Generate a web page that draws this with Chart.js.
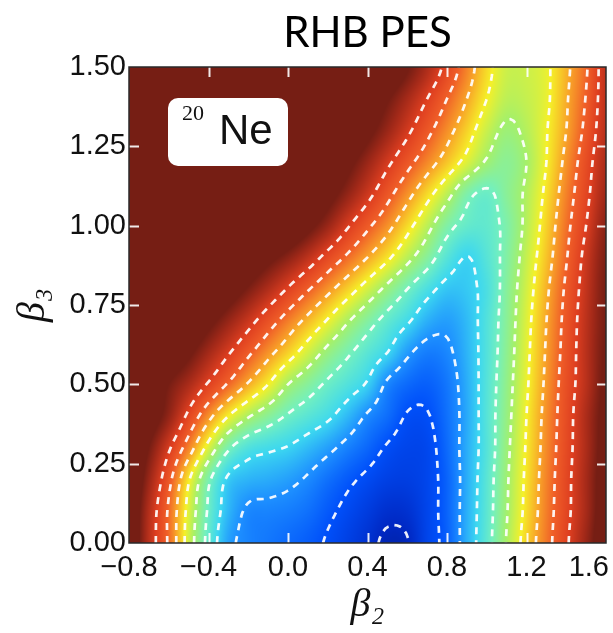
<!DOCTYPE html>
<html>
<head>
<meta charset="utf-8">
<script src="https://cdn.jsdelivr.net/npm/chart.js@4.4.1/dist/chart.umd.min.js"></script>
<style>
  html, body { margin: 0; padding: 0; background: #fff; }
  #wrap { width: 613px; height: 633px; }
</style>
</head>
<body>
<div id="wrap"><canvas id="pes"></canvas></div>
<script>
// grid nodes of the surface (beta2 across, beta3 up)
const beta2 = [-0.8, -0.7, -0.6, -0.5, -0.4, -0.3, -0.2, -0.1, 0.0, 0.1, 0.2, 0.3, 0.4,
               0.5, 0.6, 0.7, 0.8, 0.9, 1.0, 1.1, 1.2, 1.3, 1.4, 1.5, 1.6];
const beta3 = [0.0, 0.1, 0.2, 0.3, 0.4, 0.5, 0.6, 0.7, 0.8, 0.9, 1.0, 1.1, 1.2, 1.3, 1.4, 1.5];

// energy above the minimum (MeV), one row per beta3
const energy = [
  [12.5, 10.6, 8.85, 6.55, 4.7, 3.25, 2.8, 2.6, 2.4, 2.2, 1.93, 1.6, 1.25, 0.85, 0.95, 1.7, 2.25, 3.45, 4.65, 6.05, 7.4, 8.65, 9.85, 11.1, 12.3],   // 0.0
  [12.5, 10.7, 8.86, 6.7, 4.88, 3.55, 2.88, 2.8, 2.7, 2.5, 2.15, 1.82, 1.5, 1.2, 1.25, 1.72, 2.3, 3.43, 4.59, 5.94, 7.25, 8.55, 9.74, 10.9, 12.2], // 0.1
  [12.6, 11.1, 9.3, 7.1, 5.18, 3.85, 3.5, 3.38, 3.2, 2.9, 2.5, 2.15, 1.85, 1.6, 1.55, 1.75, 2.3, 3.4, 4.55, 5.88, 7.18, 8.48, 9.7, 10.9, 12.1],   // 0.2
  [12.8, 11.6, 10.15, 8.5, 6.67, 5.14, 4.4, 4.15, 3.95, 3.6, 3.2, 2.75, 2.35, 1.93, 1.72, 1.78, 2.4, 3.4, 4.45, 5.79, 7.08, 8.38, 9.62, 10.8, 12.0], // 0.3
  [13.0, 12.2, 11.2, 9.77, 8.3, 7.0, 6.09, 5.47, 4.92, 4.54, 4.15, 3.57, 2.9, 2.45, 1.95, 1.95, 2.5, 3.35, 4.48, 5.7, 7.0, 8.31, 9.56, 10.8, 11.9], // 0.4
  [13.2, 12.4, 11.6, 10.85, 9.9, 8.9, 7.91, 7.0, 6.0, 5.41, 4.86, 4.41, 3.9, 2.85, 2.4, 2.25, 2.6, 3.4, 4.45, 5.62, 6.88, 8.19, 9.48, 10.6, 11.8], // 0.5
  [13.9, 13.2, 12.5, 11.8, 10.95, 10.09, 9.18, 8.27, 7.42, 6.55, 5.75, 5.13, 4.56, 4.0, 3.15, 2.7, 2.85, 3.5, 4.41, 5.53, 6.79, 8.09, 9.38, 10.6, 11.7], // 0.6
  [14.5, 13.9, 13.3, 12.6, 11.9, 11.15, 10.35, 9.45, 8.58, 7.75, 6.92, 6.08, 5.36, 4.7, 4.12, 3.45, 3.2, 3.6, 4.4, 5.46, 6.7, 7.99, 9.3, 10.55, 11.6], // 0.7
  [15.0, 14.5, 14.0, 13.4, 12.8, 12.2, 11.5, 10.75, 9.92, 9.08, 8.25, 7.42, 6.58, 5.77, 5.0, 4.29, 3.75, 3.8, 4.3, 5.4, 6.56, 7.83, 9.16, 10.45, 11.6], // 0.8
  [15.5, 15.1, 14.6, 14.1, 13.6, 13.1, 12.5, 11.9, 11.3, 10.55, 9.67, 8.83, 8.0, 7.17, 6.27, 5.42, 4.5, 3.98, 4.5, 5.3, 6.4, 7.6, 8.93, 10.3, 11.5], // 0.9
  [16.0, 15.7, 15.3, 14.9, 14.5, 14.1, 13.6, 13.1, 12.6, 11.9, 11.1, 10.1, 9.18, 8.3, 7.3, 6.3, 5.3, 4.75, 4.7, 5.24, 6.22, 7.4, 8.73, 10.0, 11.3], // 1.0
  [16.4, 16.1, 15.8, 15.5, 15.1, 14.7, 14.3, 13.8, 13.3, 12.7, 12.0, 11.2, 10.3, 9.3, 8.3, 7.3, 6.3, 5.25, 4.85, 5.45, 6.16, 7.2, 8.5, 9.75, 11.0], // 1.1
  [16.6, 16.3, 16.0, 15.7, 15.4, 15.0, 14.6, 14.2, 13.7, 13.2, 12.6, 11.9, 11.1, 10.2, 9.3, 8.43, 7.57, 6.7, 5.9, 5.5, 6.0, 7.0, 8.25, 9.55, 10.8], // 1.2
  [16.8, 16.5, 16.2, 15.9, 15.6, 15.3, 15.0, 14.6, 14.2, 13.7, 13.2, 12.6, 11.9, 11.1, 10.2, 9.26, 8.33, 7.4, 6.46, 5.85, 6.2, 6.95, 8.0, 9.25, 10.6], // 1.3
  [17.0, 16.7, 16.4, 16.1, 15.8, 15.5, 15.2, 14.8, 14.4, 14.0, 13.5, 13.0, 12.4, 11.7, 10.9, 10.0, 9.0, 8.0, 7.0, 6.3, 6.4, 6.85, 7.9, 9.05, 10.5], // 1.4
  [17.2, 16.9, 16.6, 16.3, 16.0, 15.7, 15.4, 15.1, 14.8, 14.4, 14.0, 13.6, 13.1, 12.5, 11.7, 10.8, 9.7, 8.5, 7.3, 6.5, 6.5, 6.85, 7.8, 8.9, 10.5]    // 1.5
];

const levels = [1, 2, 3, 4, 5, 6, 7, 8, 9, 10];
const xTicks = [-0.8, -0.4, 0.0, 0.4, 0.8, 1.2, 1.6];
const yTicks = [0.0, 0.25, 0.5, 0.75, 1.0, 1.25, 1.5];

// jet-like colour scale (energy -> rgb), saturates to dark red
const cStops = [0, 1, 2, 3, 4, 5, 6, 7, 8, 9, 10, 11, 11.6];
const cRGB = [[0, 20, 95], [0, 40, 195], [0, 80, 250], [30, 145, 255], [60, 215, 240], [115, 240, 190],
              [165, 240, 105], [245, 240, 40], [248, 165, 40], [240, 95, 40], [222, 62, 32], [160, 40, 24], [118, 30, 20]];

function colour(e) {
  if (e <= cStops[0]) return cRGB[0];
  for (let k = 1; k < cStops.length; k++) {
    if (e <= cStops[k]) {
      const t = (e - cStops[k - 1]) / (cStops[k] - cStops[k - 1]);
      const a = cRGB[k - 1], b = cRGB[k];
      return [a[0] + t * (b[0] - a[0]), a[1] + t * (b[1] - a[1]), a[2] + t * (b[2] - a[2])];
    }
  }
  return cRGB[cRGB.length - 1];
}

function catmull(p0, p1, p2, p3, t) {
  return p1 + 0.5 * t * (p2 - p0 + t * (2 * p0 - 5 * p1 + 4 * p2 - p3 + t * (3 * (p1 - p2) + p3 - p0)));
}

// smooth reading of the grid at (b2, b3)
function surface(b2, b3) {
  const nx = beta2.length, ny = beta3.length;
  const gx = (b2 - beta2[0]) / (beta2[1] - beta2[0]);
  const gy = (b3 - beta3[0]) / (beta3[1] - beta3[0]);
  const i = Math.max(0, Math.min(nx - 2, Math.floor(gx)));
  const j = Math.max(0, Math.min(ny - 2, Math.floor(gy)));
  const tx = gx - i, ty = gy - j;
  const ci = k => Math.max(0, Math.min(nx - 1, k));
  const cj = k => Math.max(0, Math.min(ny - 1, k));
  const r = [];
  for (let m = -1; m <= 2; m++) {
    const R = energy[cj(j + m)];
    r.push(catmull(R[ci(i - 1)], R[ci(i)], R[ci(i + 1)], R[ci(i + 2)], tx));
  }
  return catmull(r[0], r[1], r[2], r[3], ty);
}

// marching squares, segments chained into polylines
function traceLevel(level, xs, ys, f) {
  const pts = new Map(), adj = new Map();
  const edge = (t, i, j) => {
    const k = t + i + '_' + j;
    if (!pts.has(k)) {
      const a = f[j][i], b = t === 'h' ? f[j][i + 1] : f[j + 1][i];
      const s = (level - a) / (b - a);
      pts.set(k, t === 'h' ? [xs[i] + s * (xs[i + 1] - xs[i]), ys[j]] : [xs[i], ys[j] + s * (ys[j + 1] - ys[j])]);
    }
    return k;
  };
  const link = (p, q) => {
    if (!adj.has(p)) adj.set(p, []);
    if (!adj.has(q)) adj.set(q, []);
    adj.get(p).push(q); adj.get(q).push(p);
  };
  for (let j = 0; j < ys.length - 1; j++) {
    for (let i = 0; i < xs.length - 1; i++) {
      const v0 = f[j][i], v1 = f[j][i + 1], v2 = f[j + 1][i + 1], v3 = f[j + 1][i];
      const e = [];
      if ((v0 >= level) !== (v1 >= level)) e.push(edge('h', i, j));
      if ((v1 >= level) !== (v2 >= level)) e.push(edge('v', i + 1, j));
      if ((v3 >= level) !== (v2 >= level)) e.push(edge('h', i, j + 1));
      if ((v0 >= level) !== (v3 >= level)) e.push(edge('v', i, j));
      if (e.length === 2) link(e[0], e[1]);
      else if (e.length === 4) {
        const c = (v0 + v1 + v2 + v3) / 4;
        if ((c >= level) === (v0 >= level)) { link(e[0], e[1]); link(e[2], e[3]); }
        else { link(e[0], e[3]); link(e[1], e[2]); }
      }
    }
  }
  const used = new Set(), paths = [];
  const walk = start => {
    const path = [start]; used.add(start);
    let cur = start;
    for (;;) {
      const nxt = adj.get(cur).find(n => !used.has(n));
      if (!nxt) break;
      used.add(nxt); path.push(nxt); cur = nxt;
    }
    return path;
  };
  for (const [k, n] of adj) if (n.length === 1 && !used.has(k)) paths.push(walk(k));
  for (const k of adj.keys()) if (!used.has(k)) { const p = walk(k); p.push(p[0]); paths.push(p); }
  return paths.map(p => p.map(k => pts.get(k)));
}

const surfacePlugin = {
  id: 'surface',
  beforeDraw(chart) {
    // keep the last x label inside the canvas, like the original
    const items = chart.scales.x.getLabelItems();
    const last = items[items.length - 1];
    if (last) { last.options.textAlign = 'right'; last.options.translation[0] = chart.chartArea.right + 3; }
  },
  beforeDatasetsDraw(chart) {
    const { ctx, chartArea: a, scales: { x, y } } = chart;
    const w = Math.round(a.right - a.left), h = Math.round(a.bottom - a.top);
    const img = ctx.createImageData(w, h);
    for (let py = 0; py < h; py++) {
      const b3 = y.getValueForPixel(a.top + py + 0.5);
      for (let px = 0; px < w; px++) {
        const c = colour(surface(x.getValueForPixel(a.left + px + 0.5), b3));
        const k = (py * w + px) * 4;
        img.data[k] = c[0]; img.data[k + 1] = c[1]; img.data[k + 2] = c[2]; img.data[k + 3] = 255;
      }
    }
    ctx.putImageData(img, Math.round(a.left), Math.round(a.top));
  },
  afterDatasetsDraw(chart) {
    const { ctx, chartArea: a, scales: { x, y } } = chart;
    // fine sampling for the contour lines
    const xs = [], ys = [];
    for (let v = x.min; v <= x.max + 1e-9; v += 0.015) xs.push(v);
    for (let v = y.min; v <= y.max + 1e-9; v += 0.015) ys.push(v);
    const f = ys.map(b3 => xs.map(b2 => surface(b2, b3)));

    ctx.save();
    ctx.beginPath();
    ctx.rect(a.left, a.top, a.right - a.left, a.bottom - a.top);
    ctx.clip();
    ctx.strokeStyle = 'rgba(255,255,255,0.92)';
    ctx.lineWidth = 2.7;
    ctx.setLineDash([7, 6]);
    levels.forEach(lv => {
      traceLevel(lv, xs, ys, f).forEach(path => {
        if (path.length < 2) return;
        ctx.beginPath();
        path.forEach((p, n) => {
          const px = x.getPixelForValue(p[0]), py = y.getPixelForValue(p[1]);
          if (n === 0) ctx.moveTo(px, py); else ctx.lineTo(px, py);
        });
        ctx.stroke();
      });
    });
    ctx.setLineDash([]);

    // inner tick marks
    ctx.strokeStyle = 'rgba(255,255,255,0.9)';
    ctx.lineWidth = 2;
    xTicks.slice(1, -1).forEach(v => {
      const px = Math.round(x.getPixelForValue(v)) + 0.5;
      ctx.beginPath();
      ctx.moveTo(px, a.bottom); ctx.lineTo(px, a.bottom - 10);
      ctx.moveTo(px, a.top); ctx.lineTo(px, a.top + 10);
      ctx.stroke();
    });
    yTicks.slice(1, -1).forEach(v => {
      const py = Math.round(y.getPixelForValue(v)) + 0.5;
      ctx.beginPath();
      ctx.moveTo(a.left, py); ctx.lineTo(a.left + 10, py);
      ctx.moveTo(a.right, py); ctx.lineTo(a.right - 9, py);
      ctx.stroke();
    });
    ctx.restore();

    // nucleus label
    ctx.save();
    const bx = a.left + 39, by = a.top + 31, bw = 120, bh = 68;
    ctx.fillStyle = '#ffffff';
    ctx.beginPath();
    ctx.roundRect(bx, by, bw, bh, 10);
    ctx.fill();
    ctx.fillStyle = '#111';
    ctx.textBaseline = 'alphabetic';
    ctx.font = '22px "Liberation Serif", serif';
    ctx.fillText('20', bx + 14, by + 22);
    ctx.font = '42px "Liberation Sans", Arial, sans-serif';
    ctx.fillText('Ne', bx + 51, by + 46);
    ctx.restore();

    // frame
    ctx.save();
    ctx.strokeStyle = '#2a2a2a';
    ctx.lineWidth = 1.5;
    ctx.strokeRect(a.left, a.top, a.right - a.left, a.bottom - a.top);
    ctx.restore();
  }
};

const tickFont = { family: '"Liberation Sans", Arial, sans-serif', size: 29 };

new Chart(document.getElementById('pes'), {
  type: 'scatter',
  data: { datasets: [{ data: [] }] },
  plugins: [surfacePlugin],
  options: {
    responsive: true,
    maintainAspectRatio: false,
    animation: false,
    devicePixelRatio: 1,
    layout: { padding: { top: 0, right: 7, bottom: 0, left: 0 } },
    plugins: {
      legend: { display: false },
      tooltip: { enabled: false },
      title: {
        display: true,
        fullSize: false,
        text: 'RHB PES',
        color: '#000',
        font: { family: 'Lato, "Liberation Sans", Arial, sans-serif', size: 42, weight: 'normal' },
        padding: { top: 8, bottom: 8.6 }
      }
    },
    scales: {
      x: {
        type: 'linear',
        min: -0.8,
        max: 1.6,
        afterBuildTicks: s => { s.ticks = xTicks.map(v => ({ value: v })); },
        afterFit: s => { s.height = 90; s.paddingLeft = 0; s.paddingRight = 0; },
        ticks: {
          color: '#111',
          font: tickFont,
          padding: 8,
          maxRotation: 0,
          callback: v => (v < 0 ? '\u2212' : '') + Math.abs(v).toFixed(1)
        },
        grid: { drawOnChartArea: false, drawTicks: false },
        border: { display: false },
        title: {
          display: true,
          text: 'β₂',
          color: '#111',
          font: { family: '"Liberation Serif", "DejaVu Serif", serif', style: 'italic', size: 40 },
          padding: { top: 0, bottom: 4 }
        }
      },
      y: {
        type: 'linear',
        min: 0,
        max: 1.5,
        afterBuildTicks: s => { s.ticks = yTicks.map(v => ({ value: v })); },
        afterFit: s => { s.width = 129; s.paddingTop = 0; s.paddingBottom = 0; },
        ticks: {
          color: '#111',
          font: tickFont,
          padding: 3,
          callback: v => v.toFixed(2)
        },
        grid: { drawOnChartArea: false, drawTicks: false },
        border: { display: false },
        title: {
          display: true,
          text: 'β₃',
          color: '#111',
          font: { family: '"Liberation Serif", "DejaVu Serif", serif', style: 'italic', size: 40 },
          padding: { top: 9, bottom: 0 }
        }
      }
    }
  }
});
</script>
</body>
</html>
